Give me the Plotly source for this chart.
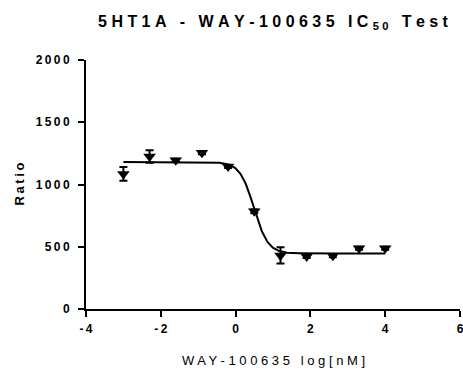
import numpy as np
import plotly.graph_objects as go

# ---- data ----
log_conc = [-3.0, -2.3, -1.6, -0.9, -0.2, 0.5, 1.2, 1.9, 2.6, 3.3, 4.0]
ratio = [1085, 1225, 1195, 1255, 1145, 785, 430, 421, 428, 487, 487]
ratio_sem = [55, 50, 12, 12, 12, 15, 65, 12, 12, 12, 12]

# fitted 4PL (log(inhibitor) vs response) parameters
fit_top = 1180
fit_bottom = 446
fit_log_ic50 = 0.49
fit_hill = -2.3

x_ticks = [-4, -2, 0, 2, 4, 6]
y_ticks = [0, 500, 1000, 1500, 2000]

FONT = "Liberation Sans, Arial, sans-serif"


def spaced(s, sep="\u2009"):
    # GraphPad-style letter spacing
    return sep.join(ch if ch != " " else "\u00a0" for ch in s)


x_fit = np.linspace(min(log_conc), max(log_conc), 300)
y_fit = fit_bottom + (fit_top - fit_bottom) / (1 + 10 ** ((fit_log_ic50 - x_fit) * fit_hill))

fig = go.Figure()

fig.add_trace(go.Scatter(
    x=x_fit, y=y_fit, mode="lines",
    line=dict(color="black", width=2),
    hoverinfo="skip", showlegend=False
))

fig.add_trace(go.Scatter(
    x=log_conc, y=ratio, mode="markers",
    marker=dict(symbol="triangle-down", size=11, color="black"),
    error_y=dict(type="data", array=ratio_sem, color="black", thickness=2, width=4),
    cliponaxis=False, showlegend=False
))

axis_common = dict(
    showline=True, linecolor="black", linewidth=2,
    ticks="outside", tickcolor="black", tickwidth=2, ticklen=6,
    showgrid=False, zeroline=False, automargin=False,
    ticklabeloverflow="allow",
    tickfont=dict(family=FONT, size=12, color="black", weight="bold"),
)

fig.update_xaxes(
    range=[-4, 6], tickvals=x_ticks,
    ticktext=[spaced(str(t)) for t in x_ticks],
    ticklabelstandoff=2,
    **axis_common
)
fig.update_yaxes(
    range=[0, 2000], tickvals=y_ticks,
    ticktext=[spaced(str(t)) for t in y_ticks],
    ticklabelstandoff=6,
    **axis_common
)

title_txt = (spaced("5HT1A - WAY-100635 IC", "\u00a0") + "\u00a0<sub>" + spaced("50", "\u00a0")
             + "</sub>\u00a0" + spaced(" Test", "\u00a0"))

fig.update_layout(
    width=463, height=373,
    margin=dict(l=86, r=3, t=60, b=64),
    plot_bgcolor="white", paper_bgcolor="white",
    title=dict(
        text=title_txt, x=0.5, xref="paper", xanchor="center",
        y=1 - 21 / 373, yref="container", yanchor="middle",
        font=dict(family=FONT, size=16, color="black", weight="bold"),
        automargin=False,
    ),
    annotations=[
        dict(text=spaced("WAY-100635 log[nM]", " "), xref="paper", yref="paper",
             x=0.5, y=(309.5 - 361) / 249, xanchor="center", yanchor="middle",
             showarrow=False, font=dict(family=FONT, size=13, color="black")),
        dict(text=spaced("Ratio"), xref="paper", yref="paper",
             x=(19 - 86) / 374, y=0.5, xanchor="center", yanchor="middle",
             textangle=-90, showarrow=False,
             font=dict(family=FONT, size=13, color="black", weight="bold")),
    ],
)

# drop the browser's default 8px body margin so the figure fills the window
fig.write_html("out.html", config={"displayModeBar": False},
               post_script="document.body.style.margin='0';")
